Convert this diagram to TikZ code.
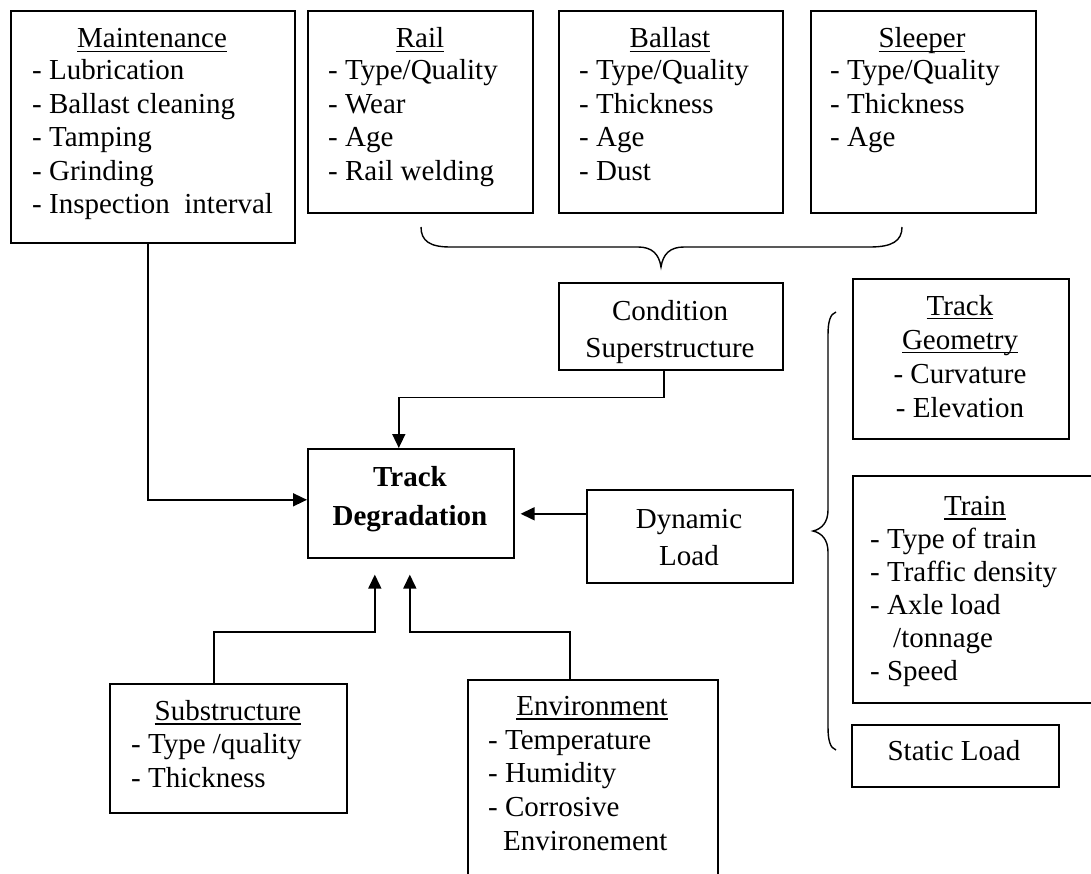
\documentclass[tikz,border=0pt]{standalone}
\usepackage{fontspec}
\setmainfont{Liberation Serif}
\usetikzlibrary{arrows.meta}
\newcommand{\ulin}[1]{\setbox0\hbox{#1}\rlap{\raisebox{-4.5pt}{\rule{\wd0}{1.7pt}}}\box0}
\tikzset{
  boxst/.style={draw, line width=1.6pt, inner sep=0pt, rectangle, anchor=north west},
  ttl/.style={inner sep=0pt, anchor=base, font=\fontsize{29}{33.5}\selectfont},
  lst/.style={inner sep=0pt, anchor=base west, font=\fontsize{29}{33.5}\selectfont},
  ctr/.style={inner sep=0pt, anchor=base, font=\fontsize{29}{37}\selectfont},
  conn/.style={line width=1.6pt},
  arr/.style={line width=1.6pt, -{Triangle[length=14pt,width=13pt]}},
  bracest/.style={line width=1.4pt}
}
\begin{document}
\begin{tikzpicture}[x=1pt, y=-1pt]
\useasboundingbox (0,0) rectangle (1091,874);

% ---- boxes ----
\node[boxst, minimum width=284pt, minimum height=232pt] (maint) at (10,10) {};
\node[boxst, minimum width=225pt, minimum height=202pt] (rail) at (307,10) {};
\node[boxst, minimum width=224pt, minimum height=202pt] (ballast) at (558,10) {};
\node[boxst, minimum width=225pt, minimum height=202pt] (sleeper) at (810,10) {};
\node[boxst, minimum width=224pt, minimum height=87pt] (cond) at (558,282) {};
\node[boxst, minimum width=206pt, minimum height=109pt] (td) at (307,448) {};
\node[boxst, minimum width=206pt, minimum height=93pt] (dyn) at (586,489) {};
\node[boxst, minimum width=216pt, minimum height=160pt] (geom) at (852,278) {};
\node[boxst, minimum width=250pt, minimum height=227pt] (train) at (852,475) {};
\node[boxst, minimum width=207pt, minimum height=62pt] (static) at (851,724) {};
\node[boxst, minimum width=237pt, minimum height=129pt] (sub) at (109,683) {};
\node[boxst, minimum width=250pt, minimum height=215pt] (env) at (467,679) {};

% ---- texts ----
\node[ttl] (maint-h) at (152,48) {\ulin{Maintenance}};
\node[lst] (maint-l) at (32,80) {\begin{tabular}[t]{@{}l@{}}- Lubrication\\- Ballast cleaning\\- Tamping\\- Grinding\\- Inspection~ interval\end{tabular}};

\node[ttl] (rail-h) at (420,48) {\ulin{Rail}};
\node[lst] (rail-l) at (328,80) {\begin{tabular}[t]{@{}l@{}}- Type/Quality\\- Wear\\- Age\\- Rail welding\end{tabular}};

\node[ttl] (ballast-h) at (670,48) {\ulin{Ballast}};
\node[lst] (ballast-l) at (579,80) {\begin{tabular}[t]{@{}l@{}}- Type/Quality\\- Thickness\\- Age\\- Dust\end{tabular}};

\node[ttl] (sleeper-h) at (922,48) {\ulin{Sleeper}};
\node[lst] (sleeper-l) at (830,80) {\begin{tabular}[t]{@{}l@{}}- Type/Quality\\- Thickness\\- Age\end{tabular}};

\node[ctr] (cond-t) at (670,320) {\begin{tabular}[t]{@{}c@{}}Condition\\Superstructure\end{tabular}};

\node[ctr, font=\bfseries\fontsize{29}{39}\selectfont] (td-t) at (410,486) {\begin{tabular}[t]{@{}c@{}}Track\\Degradation\end{tabular}};

\node[ctr] (dyn-t) at (689,528) {\begin{tabular}[t]{@{}c@{}}Dynamic\\Load\end{tabular}};

\node[ctr, font=\fontsize{29}{34}\selectfont] (geom-t) at (960,315) {\begin{tabular}[t]{@{}c@{}}\ulin{Track}\\\ulin{Geometry}\\- Curvature\\- Elevation\end{tabular}};

\node[ttl] (train-h) at (975,515) {\ulin{Train}};
\node[lst, font=\fontsize{29}{33}\selectfont] (train-l) at (870,548) {\begin{tabular}[t]{@{}l@{}}- Type of train\\- Traffic density\\- Axle load\\\hspace{23pt}/tonnage\\- Speed\end{tabular}};

\node[ttl] (static-t) at (954,760) {Static Load};

\node[ttl] (sub-h) at (228,720) {\ulin{Substructure}};
\node[lst, font=\fontsize{29}{34}\selectfont] (sub-l) at (131,753) {\begin{tabular}[t]{@{}l@{}}- Type /quality\\- Thickness\end{tabular}};

\node[ttl] (env-h) at (592,715) {\ulin{Environment}};
\node[lst, font=\fontsize{29}{33.75}\selectfont] (env-l) at (488,749) {\begin{tabular}[t]{@{}l@{}}- Temperature\\- Humidity\\- Corrosive\\\hspace{15pt}Environement\end{tabular}};

% ---- connectors ----
\draw[arr] ([xshift=-5pt]maint.south) |- ([yshift=3.5pt]td.west);
\draw[arr] ([xshift=-7pt]cond.south) -- ++(0,27) -| ([xshift=-12pt]td.north);
\coordinate (dynout) at ([yshift=22.5pt]dyn.west);
\path (td.east |- dynout) ++(6pt,0) coordinate (dynin);
\draw[arr] (dynout) -- (dynin);
\coordinate (tdinL) at ([xshift=-36pt,yshift=-16pt]td.south);
\coordinate (tdinR) at ([xshift=-1pt,yshift=-16pt]td.south);
\draw[arr] ([xshift=-14.5pt]sub.north) -- ++(0,-51) -| (tdinL);
\draw[arr] ([xshift=-23pt]env.north) -- ++(0,-47) -| (tdinR);

% ---- braces ----
\draw[bracest] (421,227) .. controls (421,241) and (430,247) .. (450,247) -- (638,247)
  .. controls (652,247) and (659,254) .. (661,267)
  .. controls (663,254) and (670,247) .. (684,247) -- (870,247)
  .. controls (892,247) and (902,241) .. (902,227);
\draw[bracest] (836,312) .. controls (830,314) and (828,322) .. (828,335) -- (828,510)
  .. controls (828,522) and (822,529) .. (813,531)
  .. controls (822,533) and (828,540) .. (828,552) -- (828,727)
  .. controls (828,740) and (830,748) .. (836,750);
\end{tikzpicture}
\end{document}
